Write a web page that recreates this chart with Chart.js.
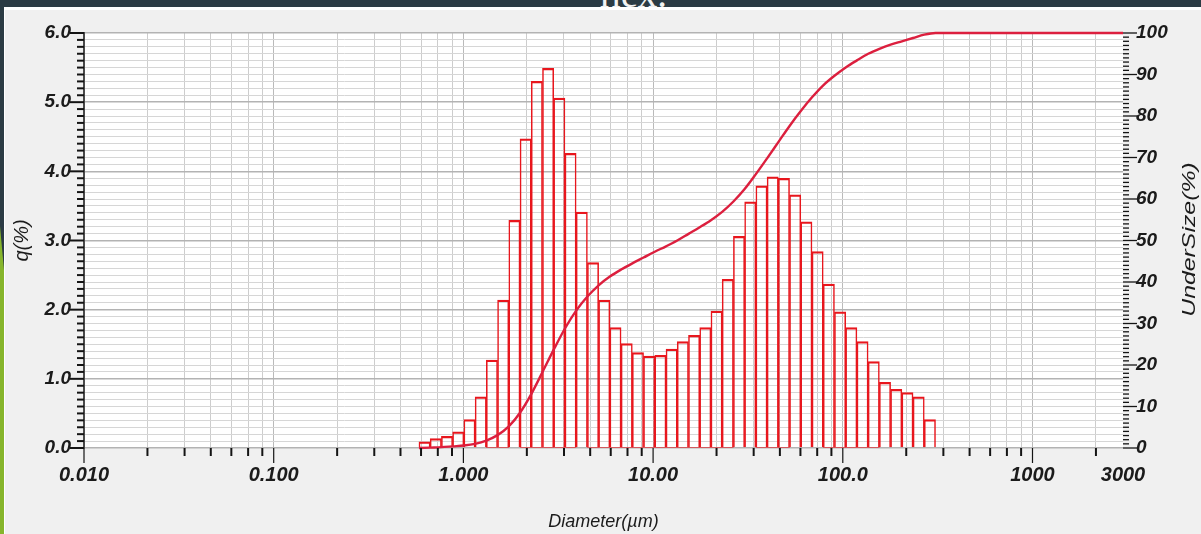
<!DOCTYPE html>
<html>
<head>
<meta charset="utf-8">
<script src="https://cdn.jsdelivr.net/npm/chart.js@4.4.1/dist/chart.umd.min.js"></script>
<style>
  html, body { margin: 0; padding: 0; }
  body { width: 1201px; height: 534px; background: #f0f0f0; position: relative; overflow: hidden; }
  .top-band { position: absolute; left: 0; top: 0; width: 1201px; height: 7px; background: #2b3b44; overflow: hidden; }
  .top-band span { position: absolute; left: 600px; top: -26px; font: 39px/1 'Liberation Serif', serif; color: #f2f2f2; }
  .top-rule { position: absolute; left: 0; top: 7px; width: 1201px; height: 3px; background: #ffffff; }
  .side-band { position: absolute; left: 0; top: 0; width: 4px; height: 534px; background: #2b3b44; }
  .side-band::after { content: ''; position: absolute; inset: 0; background: #86b52c; clip-path: polygon(0 226px, 100% 270px, 100% 100%, 0 100%); }
  .side-rule { position: absolute; left: 4px; top: 7px; width: 1px; height: 527px; background: #ffffff; }
  #psd { position: absolute; left: 0; top: 0; }
</style>
</head>
<body>
<div class="top-band"><span>нех.</span></div>
<div class="top-rule"></div>
<div class="side-band"></div>
<div class="side-rule"></div>
<canvas id="psd" width="1201" height="534"></canvas>
<script>
// size class centres (µm) and frequency q(%)
const sizeClasses = [
  0.624, 0.715, 0.820, 0.939, 1.077, 1.234, 1.414, 1.621, 1.857, 2.129,
  2.439, 2.796, 3.204, 3.672, 4.208, 4.824, 5.527, 6.335, 7.260, 8.321,
  9.535, 10.93, 12.52, 14.35, 16.45, 18.85, 21.60, 24.76, 28.38, 32.52,
  37.27, 42.71, 48.95, 56.10, 64.29, 73.68, 84.44, 96.76, 110.9, 127.1,
  145.6, 166.9, 191.3, 219.2, 251.2, 287.9
];
const frequency = [
  0.09, 0.135, 0.17, 0.235, 0.41, 0.74, 1.27, 2.14, 3.29, 4.47,
  5.30, 5.49, 5.06, 4.26, 3.41, 2.68, 2.14, 1.74, 1.51, 1.38,
  1.33, 1.34, 1.43, 1.54, 1.63, 1.74, 1.98, 2.44, 3.06, 3.56,
  3.79, 3.92, 3.90, 3.66, 3.27, 2.84, 2.37, 1.97, 1.74, 1.54,
  1.25, 0.95, 0.85, 0.80, 0.74, 0.41
];

// cumulative undersize (%) at the class boundaries
const undersizeDiameters = [
  0.583, 0.668, 0.766, 0.878, 1.006, 1.152, 1.321, 1.514, 1.735, 1.988,
  2.279, 2.612, 2.993, 3.430, 3.931, 4.506, 5.164, 5.918, 6.783, 7.773,
  8.908, 10.21, 11.70, 13.41, 15.37, 17.61, 20.18, 23.13, 26.51, 30.38,
  34.82, 39.90, 45.73, 52.41, 60.06, 68.83, 78.89, 90.41, 103.6, 118.7,
  136.1, 155.9, 178.7, 204.8, 234.7, 269.0, 308.3, 3000
];
const undersize = [
  0, 0.1, 0.2, 0.4, 0.6, 1.0, 1.8, 3.1, 5.2, 8.5,
  13.0, 18.3, 23.7, 28.8, 33.1, 36.5, 39.2, 41.3, 43.0, 44.5,
  45.9, 47.3, 48.6, 50.0, 51.6, 53.2, 54.9, 56.9, 59.4, 62.4,
  66.0, 69.8, 73.7, 77.6, 81.2, 84.5, 87.4, 89.7, 91.7, 93.4,
  95.0, 96.2, 97.2, 98.0, 98.8, 99.6, 100, 100
];

// axes
const xDecades = [0.01, 0.1, 1, 10, 100, 1000];
const xMinorSteps = [2.16, 3.39, 4.66, 5.98, 7.33, 8.71];
const xLabelValues = [0.01, 0.1, 1, 10, 100, 1000, 3000];
const xLabelText = ['0.010', '0.100', '1.000', '10.00', '100.0', '1000', '3000'];
const qTickLabels = ['0.0', '1.0', '2.0', '3.0', '4.0', '5.0', '6.0'];
const undersizeTickLabels = ['0', '10', '20', '30', '40', '50', '60', '70', '80', '90', '100'];

const X_MIN = 0.01, X_MAX = 3000;

const xTickValues = [];
xDecades.forEach((d) => {
  xTickValues.push(d);
  xMinorSteps.forEach((s) => { if (d * s < X_MAX) xTickValues.push(d * s); });
});
xTickValues.push(X_MAX);

const qTickValues = [];
for (let i = 0; i <= 60; i++) qTickValues.push(i / 10);

const sameLog = (a, b) => Math.abs(Math.log10(a) - Math.log10(b)) < 1e-6;
const isDecade = (v) => xDecades.some((d) => sameLog(v, d));
const isWhole = (v) => Math.abs(v - Math.round(v)) < 1e-6;

const FONT = "'Liberation Sans', Arial, sans-serif";
const TEXT = '#1b1b1b';

const plotBackground = {
  id: 'plotBackground',
  beforeDraw(chart) {
    const { ctx, chartArea: a } = chart;
    ctx.save();
    ctx.fillStyle = '#ffffff';
    ctx.fillRect(a.left, a.top, a.right - a.left, a.bottom - a.top);
    ctx.restore();
  }
};

// tick marks of varying length plus the right-hand title
const axisMarks = {
  id: 'axisMarks',
  afterDraw(chart) {
    const { ctx, chartArea: a, scales: { x, y, y2 } } = chart;
    const stroke = (x1, y1, x2, y2b) => { ctx.beginPath(); ctx.moveTo(x1, y1); ctx.lineTo(x2, y2b); ctx.stroke(); };
    ctx.save();
    ctx.strokeStyle = '#141414';

    x.ticks.forEach((t) => {
      if (t.value >= X_MAX) return;
      const px = x.getPixelForValue(t.value);
      const major = isDecade(t.value);
      ctx.lineWidth = major ? 1.2 : 2;
      stroke(px, a.bottom, px, a.bottom + (major ? 15 : 8));
    });

    ctx.lineWidth = 2;
    qTickValues.forEach((v) => {
      const py = y.getPixelForValue(v);
      stroke(a.left - (isWhole(v) ? 14 : 7), py, a.left, py);
    });

    ctx.lineWidth = 1.3;
    for (let v = 0; v <= 100; v++) {
      const py = y2.getPixelForValue(v);
      stroke(a.right, py, a.right + (v % 10 === 0 ? 14 : 6), py);
    }

    ctx.translate(chart.width - 11.5, (a.top + a.bottom) / 2 - 1);
    ctx.rotate(-Math.PI / 2);
    ctx.scale(1.38, 1);
    ctx.font = `italic 18px ${FONT}`;
    ctx.fillStyle = TEXT;
    ctx.textAlign = 'center';
    ctx.textBaseline = 'middle';
    ctx.fillText('UnderSize(%)', 0, 0);
    ctx.restore();
  }
};

new Chart(document.getElementById('psd'), {
  type: 'bar',
  data: {
    datasets: [
      {
        type: 'line',
        label: 'UnderSize',
        yAxisID: 'y2',
        order: 0,
        data: undersizeDiameters.map((d, i) => ({ x: d, y: undersize[i] })),
        borderColor: '#dc1f3e',
        borderWidth: 2.4,
        pointRadius: 0,
        cubicInterpolationMode: 'monotone',
        clip: 4
      },
      {
        label: 'q',
        yAxisID: 'y',
        order: 1,
        data: sizeClasses.map((d, i) => ({ x: d, y: frequency[i] })),
        backgroundColor: 'rgba(255,255,255,0)',
        borderColor: '#e8161d',
        borderWidth: { top: 1.6, left: 0.9, right: 0.9, bottom: 0 },
        barThickness: 'flex',
        barPercentage: 1,
        categoryPercentage: 1
      }
    ]
  },
  options: {
    responsive: false,
    animation: false,
    devicePixelRatio: 1,
    layout: { padding: { top: 33, left: 0, right: 0, bottom: 0 } },
    plugins: { legend: { display: false }, tooltip: { enabled: false } },
    scales: {
      x: {
        type: 'logarithmic',
        min: X_MIN,
        max: X_MAX,
        offset: false,
        afterBuildTicks: (s) => { s.ticks = xTickValues.map((v) => ({ value: v })); },
        afterFit: (s) => { s.height = 86; },
        grid: {
          offset: false,
          drawTicks: false,
          color: (c) => (c.tick.value >= X_MAX ? 'rgba(0,0,0,0)' : isDecade(c.tick.value) ? '#bababa' : '#cdcdcd'),
          lineWidth: 1
        },
        border: { display: false },
        ticks: {
          autoSkip: false,
          maxRotation: 0,
          padding: 15,
          color: TEXT,
          font: { family: FONT, size: 20, weight: 'bold', style: 'italic' },
          callback: (v) => {
            const i = xLabelValues.findIndex((lv) => sameLog(v, lv));
            return i < 0 ? '' : xLabelText[i];
          }
        },
        title: {
          display: true,
          text: 'Diameter(µm)',
          color: TEXT,
          font: { family: FONT, size: 18, style: 'italic' },
          padding: { top: 0, bottom: 1.5 }
        }
      },
      y: {
        position: 'left',
        min: 0,
        max: 6,
        afterBuildTicks: (s) => { s.ticks = qTickValues.map((v) => ({ value: v })); },
        afterFit: (s) => { s.width = 84; },
        grid: {
          drawTicks: false,
          color: (c) => (isWhole(c.tick.value) ? '#b3b3b3' : '#d6d6d6'),
          lineWidth: (c) => (isWhole(c.tick.value) ? 1.4 : 1)
        },
        border: { display: true, color: '#4b4b4b', width: 2 },
        ticks: {
          autoSkip: false,
          padding: 13,
          color: TEXT,
          font: { family: FONT, size: 19, weight: 'bold', style: 'italic' },
          callback: (v) => (isWhole(v) ? qTickLabels[Math.round(v)] : '')
        },
        title: {
          display: true,
          text: 'q(%)',
          color: TEXT,
          font: { family: FONT, size: 20, style: 'italic' },
          padding: { top: 10.5, bottom: 0 }
        }
      },
      y2: {
        position: 'right',
        min: 0,
        max: 100,
        afterFit: (s) => { s.width = 78; },
        grid: { display: false, drawTicks: false },
        border: { display: false },
        ticks: {
          stepSize: 10,
          autoSkip: false,
          padding: 13,
          color: TEXT,
          font: { family: FONT, size: 19, weight: 'bold', style: 'italic' },
          callback: (v) => undersizeTickLabels[Math.round(v / 10)]
        }
      }
    }
  },
  plugins: [plotBackground, axisMarks]
});
</script>
</body>
</html>
